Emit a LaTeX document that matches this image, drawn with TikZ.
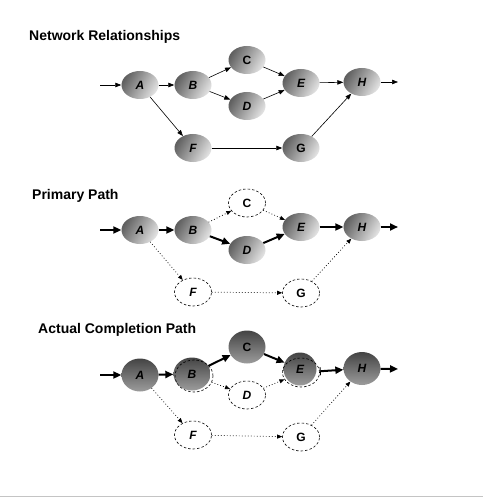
\documentclass[tikz,border=0pt]{standalone}
\usepackage{fontspec}
\setmainfont{Liberation Sans}
\usetikzlibrary{shapes.geometric,arrows.meta}
\definecolor{darkA}{HTML}{606060}
\definecolor{lightA}{HTML}{E2E2E2}
\definecolor{darkC}{HTML}{444444}
\definecolor{lightC}{HTML}{9C9C9C}
\definecolor{rulegray}{HTML}{C4C4C4}
\begin{document}
\begin{tikzpicture}[x=1pt,y=-1pt,
  nd/.style={ellipse, inner sep=0pt, minimum width=37pt, minimum height=28pt,
    font=\fontsize{12}{12}\selectfont\bfseries\itshape},
  up/.style={font=\fontsize{12}{12}\selectfont\bfseries},
  shadeA/.style={nd, top color=darkA, bottom color=lightA, shading angle=60},
  shadeC/.style={nd, top color=darkC, bottom color=lightC, minimum height=33pt},
  dnode/.style={nd, draw, line width=0.6pt, dash pattern=on 2.5pt off 2pt},
  doutline/.style={ellipse, inner sep=0pt, draw, line width=0.6pt, dash pattern=on 2.5pt off 2pt},
  tarr/.style={line width=0.6pt, -{Triangle[length=6pt,width=4.5pt]}},
  karr/.style={line width=2pt, -{Triangle[length=8pt,width=7pt]}},
  darr/.style={line width=0.7pt, dash pattern=on 0.8pt off 2.2pt, -{Triangle[length=5pt,width=4pt]}},
  ttl/.style={anchor=base west, inner sep=0pt, font=\fontsize{14}{14}\selectfont\bfseries}
]
\useasboundingbox (0,0) rectangle (485,497);
\fill[white] (0,0) rectangle (485,497);
\coordinate (rl) at (0,496);
\coordinate (rr) at (483,496);
\draw[rulegray, line width=1pt] (rl) -- (rr);

% ---------- Diagram 1 ----------
\node[ttl] (t1) at (29,41) {Network Relationships};
\node[shadeA] (a1) at (140,85) {A};
\node[shadeA] (b1) at (193,85) {B};
\node[shadeA, up] (c1) at (247,60) {C};
\node[shadeA] (d1) at (247,106) {D};
\node[shadeA] (e1) at (301,83) {E};
\node[shadeA] (h1) at (362,82) {H};
\node[shadeA] (f1) at (193,148) {F};
\node[shadeA, up] (g1) at (301,148) {G};
\coordinate (in1) at (100,85);
\coordinate (out1) at (398,82);
\draw[tarr] (in1) -- (a1);
\draw[tarr] (a1) -- (b1);
\draw[tarr] (b1) -- (c1);
\draw[tarr] (b1) -- (d1);
\draw[tarr] (c1) -- (e1);
\draw[tarr] (d1) -- (e1);
\draw[tarr] (e1) -- (h1);
\draw[tarr] (h1) -- (out1);
\draw[tarr] (a1) -- (f1);
\draw[tarr] (f1) -- (g1);
\draw[tarr] (g1) -- (h1);

% ---------- Diagram 2 ----------
\node[ttl] (t2) at (32,199) {Primary Path};
\node[shadeA] (a2) at (140,230) {A};
\node[shadeA] (b2) at (193,230) {B};
\node[dnode, up] (c2) at (247,203) {C};
\node[shadeA] (d2) at (247,250) {D};
\node[shadeA] (e2) at (301,227) {E};
\node[shadeA] (h2) at (362,227) {H};
\node[dnode] (f2) at (193,292) {F};
\node[dnode, up] (g2) at (301,293) {G};
\coordinate (in2) at (100,230);
\coordinate (out2) at (398,227);
\draw[karr] (in2) -- (a2);
\draw[karr] (a2) -- (b2);
\draw[darr] (b2) -- (c2);
\draw[karr] (b2) -- (d2);
\draw[darr] (c2) -- (e2);
\draw[karr] (d2) -- (e2);
\draw[karr] (e2) -- (h2);
\draw[karr] (h2) -- (out2);
\draw[darr] (a2) -- (f2);
\draw[darr] (f2) -- (g2);
\draw[darr] (g2) -- (h2);

% ---------- Diagram 3 ----------
\node[ttl] (t3) at (38,333) {Actual Completion Path};
\node[shadeC] (a3) at (140,375) {A};
\node[shadeC] (b3) at (192,374) {B};
\node[shadeC, up] (c3) at (247,347) {C};
\node[dnode] (d3) at (247,395) {D};
\node[shadeC, minimum width=33pt] (e3) at (300,369) {E};
\node[shadeC] (h3) at (362,368.5) {H};
\node[dnode] (f3) at (193,435) {F};
\node[dnode, up] (g3) at (301,437) {G};
\node[doutline, minimum width=38pt, minimum height=32pt] (b3o) at (194,376) {};
\node[doutline, minimum width=37pt, minimum height=29pt] (e3o) at (301,372.5) {};
\coordinate (in3) at (100,375);
\coordinate (out3) at (398,369);
\draw[karr] (in3) -- (a3);
\draw[karr] (a3) -- (b3);
\draw[karr] (b3) -- (c3);
\draw[darr] (b3o) -- (d3);
\draw[karr] (c3) -- (e3);
\draw[darr] (d3) -- (e3o);
\draw[karr, {Bar[width=8pt,line width=1pt]}-{Triangle[length=8pt,width=7pt]}] (e3o) -- (h3);
\draw[karr] (h3) -- (out3);
\draw[darr] (a3) -- (f3);
\draw[darr] (f3) -- (g3);
\draw[darr] (g3) -- (h3);
\end{tikzpicture}
\end{document}
